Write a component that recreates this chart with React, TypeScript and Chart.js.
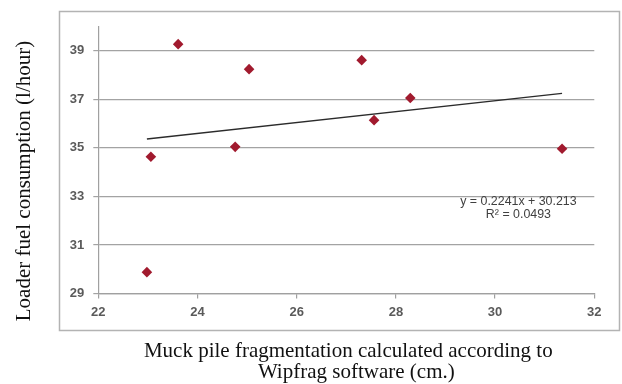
import React, { useEffect, useRef } from "react";
import { Chart, registerables } from "chart.js";

Chart.register(...registerables);

// Data
const xValues = [23.61, 25.04, 27.31, 28.29, 27.56, 24.76, 23.06, 31.35, 22.98];
const yValues = [39.27, 38.24, 38.61, 37.05, 36.14, 35.04, 34.63, 34.96, 29.88];
const xTicks = [22, 24, 26, 28, 30, 32];
const yTicks = [29, 31, 33, 35, 37, 39];
const slope = 0.2241;
const intercept = 30.213;
const equationLines = ["y = 0.2241x + 30.213", "R\u00b2 = 0.0493"];
const xTitleLines = ["Muck pile fragmentation calculated according to", "Wipfrag software (cm.)"];
const yTitle = "Loader fuel consumption (l/hour)";

const decorPlugin = {
  id: "decor",
  afterDraw(chart: any) {
    const ctx = chart.ctx as CanvasRenderingContext2D;
    const area = chart.chartArea;
    const xs = chart.scales.x;
    const ys = chart.scales.y;
    ctx.save();
    // outer frame
    ctx.strokeStyle = "#b3b3b3";
    ctx.lineWidth = 1.5;
    ctx.strokeRect(59.5, 11.5, 560, 319);

    // y axis title
    ctx.fillStyle = "#111";
    ctx.font = '21px "Liberation Serif"';
    ctx.textAlign = "center";
    ctx.textBaseline = "middle";
    ctx.save();
    ctx.translate(24.5, 181);
    ctx.rotate(-Math.PI / 2);
    ctx.fillText(yTitle, 0, 0);
    ctx.restore();

    // x axis title
    ctx.textBaseline = "alphabetic";
    const cx = (area.left + area.right) / 2;
    ctx.fillText(xTitleLines[0], cx + 2, area.bottom + 63.2);
    ctx.fillText(xTitleLines[1], cx + 10, area.bottom + 84.8);

    // trendline equation
    ctx.fillStyle = "#404040";
    ctx.font = '12.4px "Liberation Sans"';
    ctx.textBaseline = "middle";
    const ex = xs.getPixelForValue(30.47);
    const ey = ys.getPixelForValue(32.78);
    ctx.fillText(equationLines[0], ex, ey);
    ctx.fillText(equationLines[1], ex, ey + 12.5);
    ctx.restore();
  },
};

export default function App() {
  const ref = useRef<HTMLCanvasElement>(null);
  useEffect(() => {
    if (!ref.current) return;
    const minX = Math.min(...xValues);
    const maxX = Math.max(...xValues);
    const tickFont = { family: "Liberation Sans", size: 13, weight: "bold" as const };
    const chart = new Chart(ref.current, {
      type: "scatter",
      data: {
        datasets: [
          {
            label: "points",
            data: xValues.map((x, i) => ({ x, y: yValues[i] })),
            pointStyle: "rectRot",
            pointRadius: 5.3,
            backgroundColor: "#a11a2e",
            borderColor: "#a11a2e",
            borderWidth: 0,
            showLine: false,
          },
          {
            label: "trend",
            data: [
              { x: minX, y: slope * minX + intercept },
              { x: maxX, y: slope * maxX + intercept },
            ],
            showLine: true,
            borderColor: "#2b2b2b",
            borderWidth: 1.3,
            pointRadius: 0,
            fill: false,
          },
        ],
      },
      options: {
        animation: false,
        responsive: false,
        devicePixelRatio: 1,
        layout: { padding: { left: 0, top: 26.4, right: 27.7, bottom: 0 } },
        plugins: { legend: { display: false }, tooltip: { enabled: false } },
        scales: {
          x: {
            type: "linear",
            min: 22,
            max: 32,
            afterBuildTicks: (s: any) => {
              s.ticks = xTicks.map((v) => ({ value: v }));
            },
            afterFit: (s: any) => {
              s.height = 90.5;
            },
            grid: { drawOnChartArea: false, drawTicks: true, tickLength: 5, color: "#a0a0a0", lineWidth: 1.2 },
            border: { display: true, color: "#a0a0a0", width: 1.2 },
            ticks: { font: tickFont, color: "#5a5a5a", padding: 6, maxRotation: 0, autoSkip: false },
          },
          y: {
            type: "linear",
            min: 29,
            max: 40,
            afterBuildTicks: (s: any) => {
              s.ticks = yTicks.map((v) => ({ value: v }));
            },
            afterFit: (s: any) => {
              s.width = 98.3;
            },
            grid: { drawTicks: true, tickLength: 5, color: "#a3a3a3", lineWidth: 1.2 },
            border: { display: true, color: "#a0a0a0", width: 1.2 },
            ticks: { font: tickFont, color: "#5a5a5a", padding: 9, autoSkip: false },
          },
        },
      },
      plugins: [decorPlugin],
    });
    return () => chart.destroy();
  }, []);
  return (
    <div style={{ position: "absolute", left: 0, top: 0, width: 622, height: 384, background: "#fff" }}>
      <canvas ref={ref} width={622} height={384} style={{ width: 622, height: 384, display: "block" }} />
    </div>
  );
}
